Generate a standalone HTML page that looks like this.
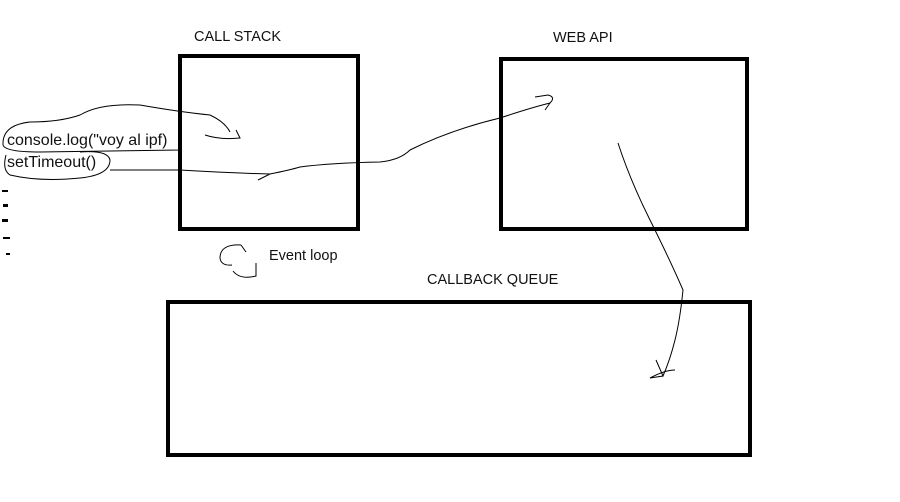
<!DOCTYPE html>
<html><head><style>
body{margin:0;background:#fff;width:900px;height:502px;overflow:hidden}
svg{display:block}
text{font-family:"Liberation Sans",sans-serif;font-size:14.5px;fill:#111}
</style></head><body>
<svg width="900" height="502" viewBox="0 0 900 502">
<g fill="none" stroke="#000" stroke-width="4">
<rect x="180" y="56" width="178" height="173"/>
<rect x="501" y="59" width="246" height="170"/>
<rect x="168" y="302" width="582" height="153"/>
</g>
<text x="194" y="41">CALL STACK</text>
<text x="553" y="42">WEB API</text>
<text x="427" y="284">CALLBACK QUEUE</text>
<text x="269" y="260">Event loop</text>
<text x="7" y="145" style="font-size:16px">console.log("voy al ipf)</text>
<text x="7" y="167" style="font-size:16px">setTimeout()</text>
<g fill="none" stroke="#000" stroke-width="1">
<path d="M3,145 Q2,125 30,122 Q60,122 80,115 Q100,103 140,105 Q180,112 210,115 Q225,122 230,132"/>
<path d="M205,135 Q220,140 240,138 L236,130"/>
<path d="M3,145 Q5,152 40,152 L180,150 L180,133"/>
<path d="M6,155 Q2,170 10,175 Q40,182 80,178 Q110,175 110,160 Q108,150 80,152"/>
<path d="M110,170 L180,170 Q230,173 270,174 L258,180 M270,174 Q290,170 300,167 Q330,163 380,162 Q400,160 410,150 Q450,130 500,118 Q530,108 550,103 L545,110 M550,103 Q556,97 548,95 L535,97"/>
<path d="M618,143 Q630,180 650,220 Q670,260 683,290 Q680,320 675,340 Q670,360 663,376 L656,360 M663,376 L650,378 Q665,370 675,370"/>
<path d="M241,245 Q220,244 220,258 Q221,266 232,265 M241,245 L246,252 M233,271 Q240,280 256,276 L256,263"/>
</g>
<g fill="#000">
<rect x="2" y="190" width="6" height="2"/>
<rect x="3" y="204" width="5" height="3"/>
<rect x="2" y="219" width="6" height="3"/>
<rect x="3" y="237" width="7" height="2"/>
<rect x="6" y="253" width="4" height="2"/>
</g>
</svg>
</body></html>
